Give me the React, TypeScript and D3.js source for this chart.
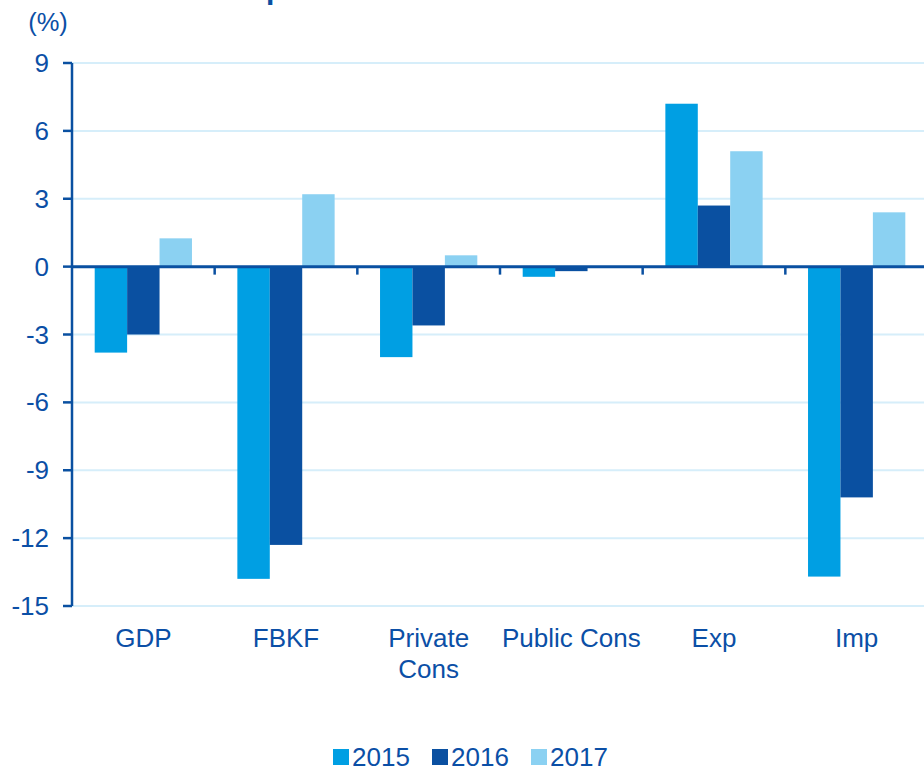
import React from "react";
import * as d3 from "d3";

const categories = ["GDP", "FBKF", "Private Cons", "Public Cons", "Exp", "Imp"];
const categoryLines = [["GDP"], ["FBKF"], ["Private", "Cons"], ["Public Cons"], ["Exp"], ["Imp"]];
const seriesNames = ["2015", "2016", "2017"];
const values2015 = [-3.8, -13.8, -4.0, -0.45, 7.2, -13.7];
const values2016 = [-3.0, -12.3, -2.6, -0.2, 2.7, -10.2];
const values2017 = [1.25, 3.2, 0.5, 0.0, 5.1, 2.4];
const yTicks = [9, 6, 3, 0, -3, -6, -9, -12, -15];
const seriesColors = ["#009FE3", "#0A50A1", "#8BD1F2"];

const W = 924;
const H = 769;
const axisColor = "#0A50A1";
const textColor = "#0B4FA6";
const gridColor = "#D6EEFA";
const font = "'Liberation Sans', Arial, sans-serif";

export default function App() {
  const seriesValues = [values2015, values2016, values2017];
  const y = d3.scaleLinear().domain([-15, 9]).range([606, 63]);
  const x0 = d3.scaleBand<string>().domain(categories).range([72, 928]).paddingInner(0).paddingOuter(0);
  const x1 = d3.scaleBand<string>().domain(seriesNames).range([0, x0.bandwidth()]).paddingInner(0).paddingOuter(0.7);
  const boundaries = categories.slice(1).map((c) => x0(c) as number);

  return (
    <svg width={W} height={H} style={{ position: "absolute", left: 0, top: 0, background: "#fff" }} fontFamily={font}>
      {/* title fragment cut at top */}
      <text x={266} y={-1} fontSize={30} fontWeight="bold" fill={axisColor}>p</text>
      {/* unit label */}
      <text x={48} y={31} fontSize={25.5} fill={textColor} textAnchor="middle">(%)</text>
      {/* gridlines */}
      {yTicks.map((t) => (
        <line key={"g" + t} x1={72} x2={W} y1={y(t)} y2={y(t)} stroke={gridColor} strokeWidth={2} />
      ))}
      {/* bars */}
      {categories.map((c, ci) => (
        <g key={c} transform={`translate(${x0(c)},0)`}>
          {seriesNames.map((s, si) => {
            const v = seriesValues[si][ci];
            const y0 = y(0);
            const yv = y(v);
            return (
              <rect
                key={s}
                x={x1(s)}
                y={Math.min(y0, yv)}
                width={x1.bandwidth()}
                height={Math.abs(yv - y0)}
                fill={seriesColors[si]}
              />
            );
          })}
        </g>
      ))}
      {/* zero line */}
      <line x1={72} x2={W} y1={y(0)} y2={y(0)} stroke={axisColor} strokeWidth={3} />
      {boundaries.map((b, i) => (
        <line key={"b" + i} x1={b} x2={b} y1={y(0)} y2={y(0) + 8} stroke={axisColor} strokeWidth={2.5} />
      ))}
      {/* y axis */}
      <line x1={72} x2={72} y1={y(9)} y2={y(-15)} stroke={axisColor} strokeWidth={2.5} />
      {yTicks.map((t) => (
        <g key={"t" + t}>
          <line x1={63} x2={72} y1={y(t)} y2={y(t)} stroke={axisColor} strokeWidth={2.5} />
          <text x={49} y={y(t)} dy="0.35em" fontSize={26} fill={textColor} textAnchor="end">
            {t}
          </text>
        </g>
      ))}
      {/* category labels */}
      {categories.map((c, ci) => (
        <text key={"c" + c} x={(x0(c) as number) + x0.bandwidth() / 2} y={647} fontSize={26} fill={textColor} textAnchor="middle">
          {categoryLines[ci].map((l, li) => (
            <tspan key={li} x={(x0(c) as number) + x0.bandwidth() / 2} dy={li === 0 ? 0 : 31}>
              {l}
            </tspan>
          ))}
        </text>
      ))}
      {/* legend */}
      {seriesNames.map((s, si) => {
        const lx = [333, 432, 531][si];
        return (
          <g key={"l" + s}>
            <rect x={lx} y={749} width={16} height={16} fill={seriesColors[si]} />
            <text x={lx + 19} y={765.5} fontSize={26} fill={textColor}>
              {s}
            </text>
          </g>
        );
      })}
    </svg>
  );
}
